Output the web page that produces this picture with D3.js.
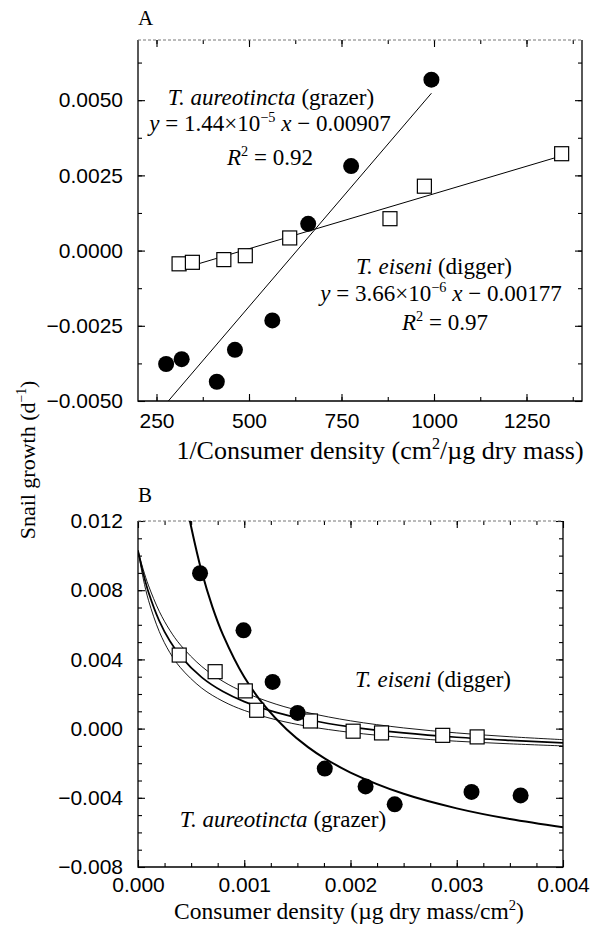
<!DOCTYPE html>
<html>
<head>
<meta charset="utf-8">
<script src="https://cdn.jsdelivr.net/npm/d3@7"></script>
<style>
  body { margin: 0; background: #fff; }
  svg { display: block; font-family: "Liberation Serif", "Times New Roman", serif; }
</style>
</head>
<body>
<svg id="chart"></svg>
<script>
// ---- panel A: growth vs 1/consumer density ----
var grazerInvA = [276, 318, 413, 462, 563, 660, 776, 993];
var grazerGrowthA = [-0.00377, -0.00361, -0.00436, -0.0033, -0.00232, 0.00089, 0.00281, 0.00568];
var diggerInvA = [311, 347, 432, 490, 610, 881, 974, 1345];
var diggerGrowthA = [-0.00044, -0.00039, -0.0003, -0.00017, 0.00042, 0.00106, 0.00214, 0.00322];
// regression lines, end points
var grazerFitA = [[282, -0.005], [993, 0.00523]];
var diggerFitA = [[311, -0.00063], [1345, 0.00315]];
var xTicksA = [250, 500, 750, 1000, 1250];
var yTicksA = [-0.005, -0.0025, 0, 0.0025, 0.005];

// ---- panel B: growth vs consumer density ----
var grazerDensB = [0.000584, 0.000993, 0.001267, 0.001502, 0.001758, 0.002142, 0.002416, 0.003139, 0.003601];
var grazerGrowthB = [0.00898, 0.00568, 0.0027, 0.000906, -0.00231, -0.00334, -0.00438, -0.00366, -0.00386];
var diggerDensB = [0.000388, 0.000726, 0.00101, 0.001117, 0.001623, 0.002025, 0.002292, 0.002868, 0.003192];
var diggerGrowthB = [0.00425, 0.00329, 0.00218, 0.00106, 0.00044, -0.00015, -0.00025, -0.00039, -0.00048];
// fitted curves
var curveDensB = [0, 0.00005, 0.0001, 0.0002, 0.0003, 0.0004, 0.0006, 0.0008, 0.001, 0.0013, 0.0016, 0.002, 0.0025, 0.003, 0.0035, 0.004];
var diggerMidB = [0.0103, 0.00895, 0.00786, 0.00623, 0.00506, 0.00419, 0.00296, 0.00214, 0.00156, 0.00094, 0.00051, 0.0001, -0.00025, -0.0005, -0.00068, -0.00083];
var diggerHighB = [0.0103, 0.00918, 0.00825, 0.00678, 0.00568, 0.00483, 0.00359, 0.00273, 0.0021, 0.00141, 0.00092, 0.00045, 0.00004, -0.00025, -0.00047, -0.00064];
var diggerLowB = [0.0103, 0.00865, 0.00739, 0.00561, 0.00439, 0.00352, 0.00234, 0.00158, 0.00105, 0.00051, 0.00013, -0.00022, -0.00052, -0.00073, -0.00088, -0.001];
var grazerCurveDensB = [0.00047, 0.0005, 0.0006, 0.0007, 0.0008, 0.001, 0.0012, 0.0014, 0.0016, 0.00176, 0.002, 0.0025, 0.003, 0.0035, 0.004];
var grazerCurveB = [0.0126, 0.01167, 0.00906, 0.00704, 0.00542, 0.00298, 0.00125, -0.00005, -0.00107, -0.00173, -0.00254, -0.00377, -0.00461, -0.00523, -0.0057];
var xTicksB = [0, 0.001, 0.002, 0.003, 0.004];
var yTicksB = [-0.008, -0.004, 0, 0.004, 0.008, 0.012];

var W = 593, H = 928;
var svg = d3.select('#chart').attr('width', W).attr('height', H);

function richText(parent, x, y, parts, size, anchor){
  var t = parent.append('text')
    .attr('x', x).attr('y', y)
    .attr('font-size', size)
    .attr('text-anchor', anchor || 'middle');
  var shift = size * 0.4, wasSup = false;
  parts.forEach(function(p){
    var s = t.append('tspan').text(p.t);
    if(p.i) s.attr('font-style', 'italic');
    if(p.sup){
      s.attr('font-size', size * 0.62).attr('dy', -shift);
    } else if(wasSup){
      s.attr('dy', shift);
    }
    wasSup = !!p.sup;
  });
  return t;
}

function range(a, b, step){
  return d3.range(Math.round((b - a) / step) + 1).map(function(i){ return +(a + i * step).toFixed(6); });
}

function zip(xs, ys){ return xs.map(function(v, i){ return [v, ys[i]]; }); }

// box with inward ticks on all four sides, labels only bottom / left
function frame(g, x, y, majX, minX, majY, minY, fmtX, fmtY, padX){
  var w = x.range()[1], h = y.range()[0];

  var sides = [
    {axis: d3.axisBottom(x), at: 'translate(0,' + h + ')', maj: majX, min: minX, fmt: fmtX, pad: padX},
    {axis: d3.axisTop(x), at: null, maj: majX, min: minX},
    {axis: d3.axisLeft(y), at: null, maj: majY, min: minY, fmt: fmtY, pad: 15},
    {axis: d3.axisRight(y), at: 'translate(' + w + ',0)', maj: majY, min: minY}
  ];
  sides.forEach(function(s){
    g.append('g').attr('transform', s.at)
      .call(s.axis.tickValues(s.min).tickSize(-4).tickFormat(''))
      .select('.domain').remove();
    s.axis.tickValues(s.maj).tickSize(-7).tickFormat(s.fmt || '').tickPadding(s.pad || 3);
    var major = g.append('g').attr('transform', s.at).call(s.axis);
    major.select('.domain').remove();
    major.selectAll('text').attr('font-size', 21).attr('fill', '#000');
  });
  g.selectAll('.tick line').attr('stroke', '#000').attr('stroke-width', 1.1);
  g.selectAll('.tick').attr('font-family', null);

  g.append('path')
    .attr('d', 'M0,0V' + h + 'H' + w + 'V0')
    .attr('fill', 'none').attr('stroke', '#000').attr('stroke-width', 1.3);
  g.append('line')
    .attr('x1', 0).attr('x2', w).attr('y1', 0).attr('y2', 0)
    .attr('stroke', '#777').attr('stroke-width', 1).attr('stroke-dasharray', '3,2');
}

function markers(g, x, y, xs, ys, filled){
  var pts = zip(xs, ys);
  if(filled){
    g.selectAll(null).data(pts).enter().append('circle')
      .attr('cx', function(d){ return x(d[0]); })
      .attr('cy', function(d){ return y(d[1]); })
      .attr('r', 8).attr('fill', '#000');
  } else {
    g.selectAll(null).data(pts).enter().append('rect')
      .attr('x', function(d){ return x(d[0]) - 7; })
      .attr('y', function(d){ return y(d[1]) - 7; })
      .attr('width', 14).attr('height', 14)
      .attr('fill', '#fff').attr('stroke', '#000').attr('stroke-width', 1.2);
  }
}

// ---------- panel A ----------
var xA = d3.scaleLinear().domain([200, 1400]).range([0, 444]);
var yA = d3.scaleLinear().domain([-0.005, 0.007]).range([361, 0]);
var gA = svg.append('g').attr('transform', 'translate(138,40)');

gA.append('clipPath').attr('id', 'clipA').append('rect').attr('width', 444).attr('height', 361);
frame(gA, xA, yA, xTicksA, range(250, 1375, 125), yTicksA, range(-0.00375, 0.00625, 0.00125),
  d3.format('d'), d3.format('.4f'), 12);

var lineA = d3.line().x(function(d){ return xA(d[0]); }).y(function(d){ return yA(d[1]); });
var fitsA = gA.append('g').attr('clip-path', 'url(#clipA)');
[grazerFitA, diggerFitA].forEach(function(f){
  fitsA.append('path').attr('d', lineA(f)).attr('fill', 'none').attr('stroke', '#000').attr('stroke-width', 1);
});
markers(gA, xA, yA, diggerInvA, diggerGrowthA, false);
markers(gA, xA, yA, grazerInvA, grazerGrowthA, true);

svg.append('text').attr('x', 138).attr('y', 25).attr('font-size', 21).text('A');

richText(svg, 271, 105, [{t: 'T. aureotincta', i: 1}, {t: ' (grazer)'}], 23);
richText(svg, 270, 131, [{t: 'y', i: 1}, {t: ' = 1.44×10'}, {t: '−5', sup: 1}, {t: ' '}, {t: 'x', i: 1}, {t: ' − 0.00907'}], 23);
richText(svg, 270, 165, [{t: 'R', i: 1}, {t: '2', sup: 1}, {t: ' = 0.92'}], 23);
richText(svg, 434, 274, [{t: 'T. eiseni', i: 1}, {t: ' (digger)'}], 23);
richText(svg, 441, 301, [{t: 'y', i: 1}, {t: ' = 3.66×10'}, {t: '−6', sup: 1}, {t: ' '}, {t: 'x', i: 1}, {t: ' − 0.00177'}], 23);
richText(svg, 445, 330, [{t: 'R', i: 1}, {t: '2', sup: 1}, {t: ' = 0.97'}], 23);

richText(svg, 380, 459, [{t: '1/Consumer density (cm'}, {t: '2', sup: 1}, {t: '/µg dry mass)'}], 26);

// ---------- panel B ----------
var xB = d3.scaleLinear().domain([0, 0.004]).range([0, 425]);
var yB = d3.scaleLinear().domain([-0.008, 0.012]).range([346, 0]);
var gB = svg.append('g').attr('transform', 'translate(138,521)');

gB.append('clipPath').attr('id', 'clipB').append('rect').attr('width', 425).attr('height', 346);
frame(gB, xB, yB, xTicksB, range(0.00025, 0.00375, 0.00025), yTicksB, range(-0.007, 0.011, 0.001),
  d3.format('.3f'), d3.format('.3f'), 10);

var lineB = d3.line().curve(d3.curveCatmullRom)
  .x(function(d){ return xB(d[0]); }).y(function(d){ return yB(d[1]); });
var curvesB = gB.append('g').attr('clip-path', 'url(#clipB)');
[
  [zip(curveDensB, diggerHighB), 0.9],
  [zip(curveDensB, diggerLowB), 0.9],
  [zip(curveDensB, diggerMidB), 1.7],
  [zip(grazerCurveDensB, grazerCurveB), 2]
].forEach(function(c){
  curvesB.append('path').attr('d', lineB(c[0]))
    .attr('fill', 'none').attr('stroke', '#000').attr('stroke-width', c[1]);
});
markers(gB, xB, yB, diggerDensB, diggerGrowthB, false);
markers(gB, xB, yB, grazerDensB, grazerGrowthB, true);

svg.append('text').attr('x', 138).attr('y', 502).attr('font-size', 21).text('B');

richText(svg, 433, 687, [{t: 'T. eiseni', i: 1}, {t: ' (digger)'}], 23);
richText(svg, 283, 827, [{t: 'T. aureotincta', i: 1}, {t: ' (grazer)'}], 23);

richText(svg, 349, 919, [{t: 'Consumer density (µg dry mass/cm'}, {t: '2', sup: 1}, {t: ')'}], 23.5);

// shared y title
richText(svg, 0, 0, [{t: 'Snail growth (d'}, {t: '−1', sup: 1}, {t: ')'}], 22)
  .attr('transform', 'translate(35,460) rotate(-90)');
</script>
</body>
</html>
